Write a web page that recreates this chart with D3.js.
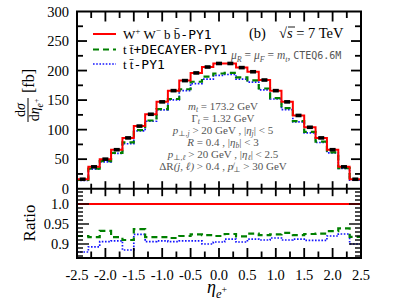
<!DOCTYPE html>
<html>
<head>
<meta charset="utf-8">
<script src="https://cdn.jsdelivr.net/npm/d3@7"></script>
<style>
  body { margin: 0; background: #fff; }
  svg { display: block; }
</style>
</head>
<body>
<div id="main"></div>
<script>
// bin edges in eta_e+ (0.2 wide)
const binEdges = [-2.5, -2.3, -2.1, -1.9, -1.7, -1.5, -1.3, -1.1, -0.9, -0.7, -0.5, -0.3, -0.1,
  0.1, 0.3, 0.5, 0.7, 0.9, 1.1, 1.3, 1.5, 1.7, 1.9, 2.1, 2.3, 2.5];
// dsigma/deta [fb]
const wwbb = [16, 37, 50, 66, 86, 106, 126, 147, 166, 183, 196, 206, 212,
  212, 205, 198, 184, 166, 147, 124, 104, 86, 66, 37, 16];
const ttDecayer = [14.7, 33.9, 46.7, 60.5, 78.3, 99.3, 115.5, 134.8, 151.9, 168.4, 181.1, 189.9, 195,
  196.1, 188.4, 183.3, 169.6, 153.4, 136.4, 114.3, 96.2, 79.6, 61.5, 34.7, 14.7];
const ttPy = [14.1, 33.0, 45.3, 59.9, 76.1, 97.9, 114.2, 133.5, 150.4, 166.2, 178.0, 185.4, 191.9,
  193.3, 185.5, 180.6, 167.4, 151.9, 133.8, 113.1, 94.5, 78.2, 60.7, 34.2, 14.4];
// ratio to W+W-bb
const ratioDecayer = [0.920, 0.917, 0.933, 0.917, 0.910, 0.937, 0.917, 0.917, 0.915, 0.920, 0.924, 0.922, 0.920,
  0.925, 0.919, 0.926, 0.922, 0.924, 0.928, 0.922, 0.925, 0.926, 0.932, 0.939, 0.918];
const ratioPy = [0.880, 0.893, 0.906, 0.908, 0.885, 0.924, 0.906, 0.908, 0.906, 0.908, 0.908, 0.900, 0.905,
  0.912, 0.905, 0.912, 0.910, 0.915, 0.910, 0.912, 0.909, 0.909, 0.920, 0.925, 0.900];

const xTicks = [-2.5, -2.0, -1.5, -1.0, -0.5, 0.0, 0.5, 1.0, 1.5, 2.0, 2.5];
const yTicks = [0, 50, 100, 150, 200, 250, 300];
const rTicks = [0.9, 0.95, 1.0];
const rTickLabels = ["0.9", "0.95", "1.0"];

const W = 407, H = 308;
const L = 77, R = 361, T = 11.5, M = 188.7, B = 258;
const serif = "'Liberation Serif', 'DejaVu Serif', serif";
const mono = "'DejaVu Sans Mono', 'Liberation Mono', monospace";

const svg = d3.select("#main").append("svg").attr("width", W).attr("height", H);

const x = d3.scaleLinear().domain([-2.5, 2.5]).range([L, R]);
const y = d3.scaleLinear().domain([0, 300]).range([M, T]);
const yr = d3.scaleLinear().domain([0.865, 0.865 + (B - M) / 400]).range([B, M]);

const defs = svg.append("defs");
defs.append("clipPath").attr("id", "cu").append("rect")
  .attr("x", L).attr("y", T).attr("width", R - L).attr("height", M - T);
defs.append("clipPath").attr("id", "cl").append("rect")
  .attr("x", L).attr("y", M).attr("width", R - L).attr("height", B - M);

function stepPts(vals) {
  const pts = vals.map((v, i) => [binEdges[i], v]);
  pts.push([binEdges[binEdges.length - 1], vals[vals.length - 1]]);
  return pts;
}
const lineU = d3.line().x(d => x(d[0])).y(d => y(d[1])).curve(d3.curveStepAfter);
const lineL = d3.line().x(d => x(d[0])).y(d => yr(d[1])).curve(d3.curveStepAfter);

const styles = {
  red: { stroke: "#ff0000", w: 2, dash: null },
  green: { stroke: "#008000", w: 2.2, dash: "6,4" },
  blue: { stroke: "#1414ff", w: 1.7, dash: "1.6,1.6" }
};
function draw(g, gen, pts, st) {
  g.append("path").attr("d", gen(pts)).attr("fill", "none")
    .attr("stroke", st.stroke).attr("stroke-width", st.w)
    .attr("stroke-dasharray", st.dash);
}

// upper panel
const gu = svg.append("g").attr("clip-path", "url(#cu)");
draw(gu, lineU, stepPts(ttPy), styles.blue);
draw(gu, lineU, stepPts(ttDecayer), styles.green);
draw(gu, lineU, stepPts(wwbb), styles.red);
gu.selectAll("rect.mk").data(wwbb).join("rect").attr("class", "mk")
  .attr("x", (d, i) => x((binEdges[i] + binEdges[i + 1]) / 2) - 3)
  .attr("y", d => y(d) - 1.8)
  .attr("width", 6).attr("height", 3.6).attr("fill", "#000");

// lower panel
const gl = svg.append("g").attr("clip-path", "url(#cl)");
draw(gl, lineL, stepPts(ratioPy), styles.blue);
draw(gl, lineL, stepPts(ratioDecayer), styles.green);
gl.append("line").attr("x1", L).attr("x2", R).attr("y1", yr(1)).attr("y2", yr(1))
  .attr("stroke", "#ff0000").attr("stroke-width", 2);

// frame and ticks
const ax = svg.append("g").attr("stroke", "#000");
ax.append("rect").attr("x", L).attr("y", T).attr("width", R - L).attr("height", B - T)
  .attr("fill", "none").attr("stroke-width", 2);
ax.append("line").attr("x1", L).attr("x2", R).attr("y1", M).attr("y2", M).attr("stroke-width", 2);

const xMinor = d3.range(-2.25, 2.5, 0.5);
xTicks.concat(xMinor).forEach(v => {
  const major = xTicks.includes(v);
  const len = major ? 10 : 6.5;
  const px = x(v);
  ax.append("line").attr("x1", px).attr("x2", px).attr("y1", T).attr("y2", T + len).attr("stroke-width", 1.8);
  ax.append("line").attr("x1", px).attr("x2", px).attr("y1", B).attr("y2", B - len).attr("stroke-width", 1.8);
  const h = major ? 7.5 : 5;
  ax.append("line").attr("x1", px).attr("x2", px).attr("y1", M - h).attr("y2", M + h).attr("stroke-width", 1.8);
});
d3.range(25, 300, 25).forEach(v => {
  const len = v % 50 === 0 ? 10 : 6;
  ax.append("line").attr("x1", L).attr("x2", L + len).attr("y1", y(v)).attr("y2", y(v)).attr("stroke-width", 1.8);
  ax.append("line").attr("x1", R).attr("x2", R - len).attr("y1", y(v)).attr("y2", y(v)).attr("stroke-width", 1.8);
});
d3.range(87, 104).forEach(k => {
  const v = k / 100;
  const len = k % 5 === 0 ? 12 : 6;
  ax.append("line").attr("x1", L).attr("x2", L + len).attr("y1", yr(v)).attr("y2", yr(v)).attr("stroke-width", 1.4);
  ax.append("line").attr("x1", R).attr("x2", R - len).attr("y1", yr(v)).attr("y2", yr(v)).attr("stroke-width", 1.4);
});

// tick labels
const lab = svg.append("g").attr("font-family", serif).attr("font-size", 14.5).attr("fill", "#000");
yTicks.forEach(v => {
  lab.append("text").attr("x", L - 8).attr("y", y(v) + 5).attr("text-anchor", "end").text(v);
});
rTicks.forEach((v, i) => {
  lab.append("text").attr("x", L - 8).attr("y", yr(v) + 5).attr("text-anchor", "end").text(rTickLabels[i]);
});
xTicks.forEach(v => {
  lab.append("text").attr("x", x(v)).attr("y", 280).attr("text-anchor", "middle")
    .text(d3.format(".1f")(v).replace("−", "-"));
});

// rich text helper: parts are [text, kind]; kinds: it, sub, sup, ssup (raised inside a subscript), tt
function rich(sel, px, py, parts, size, family, subDrop) {
  const t = sel.append("text").attr("x", px).attr("y", py).attr("font-size", size)
    .attr("font-family", family || serif);
  const drop = subDrop || 0.28;
  let shift = 0;
  parts.forEach(([s, k]) => {
    k = k || "";
    let ns = 0, fs = null;
    if (k.includes("ssup")) { ns = 0; fs = size * 0.55; }
    else if (k.includes("sub")) { ns = size * drop; fs = size * 0.7; }
    else if (k.includes("sup")) { ns = -size * 0.38; fs = size * 0.7; }
    const sp = t.append("tspan").text(s).attr("dy", ns - shift);
    shift = ns;
    if (fs) sp.attr("font-size", fs);
    if (k.includes("it")) sp.attr("font-style", "italic");
    if (k.includes("tt")) sp.attr("font-family", mono);
  });
  return t;
}

// axis titles
const yl = svg.append("g").attr("transform", "translate(28,100) rotate(-90)");
rich(yl, -10, -3, [["d"], ["σ", "it"]], 14).attr("text-anchor", "middle");
rich(yl, -10, 11, [["d"], ["η", "it"], ["e", "it sub"], ["+", "ssup"]], 14).attr("text-anchor", "middle");
yl.append("line").attr("x1", -22).attr("x2", 2).attr("y1", 0).attr("y2", 0).attr("stroke", "#000").attr("stroke-width", 1);
yl.append("text").attr("x", 19).attr("y", 5.5).attr("text-anchor", "middle")
  .attr("font-family", serif).attr("font-size", 16).text("[fb]");

svg.append("text").attr("transform", "translate(35,223) rotate(-90)").attr("text-anchor", "middle")
  .attr("font-family", serif).attr("font-size", 17).text("Ratio");

rich(svg, 207, 293, [["η", "it"], ["e", "it sub"], ["+", "ssup"]], 18);

// legend
const leg = [
  { st: styles.red, parts: [["W"], ["+", "sup"], [" W"], ["−", "sup"], [" b b\u0304"], ["-PY1", "tt"]] },
  { st: styles.green, parts: [["t t\u0304"], ["+DECAYER-PY1", "tt"]] },
  { st: styles.blue, parts: [["t t\u0304"], ["-PY1", "tt"]] }
];
const ly = [34, 49.5, 64];
leg.forEach((d, i) => {
  svg.append("line").attr("x1", 93).attr("x2", 116).attr("y1", ly[i]).attr("y2", ly[i])
    .attr("stroke", d.st.stroke).attr("stroke-width", d.st.w).attr("stroke-dasharray", d.st.dash);
  rich(svg, 123, ly[i] + 4.5, d.parts, 13);
});

// header labels
svg.append("text").attr("x", 249).attr("y", 38).attr("font-family", serif).attr("font-size", 14.5).text("(b)");
rich(svg, 279, 38, [["√"], ["s", "it"], [" = 7 TeV"]], 14.5);
svg.append("line").attr("x1", 288).attr("x2", 295).attr("y1", 27).attr("y2", 27).attr("stroke", "#000").attr("stroke-width", 0.9);
rich(svg, 231, 59, [["μ", "it"], ["R", "it sub"], [" = "], ["μ", "it"], ["F", "it sub"], [" = "], ["m", "it"], ["t", "it sub"], [", "]], 11.5)
  .attr("fill", "#555")
  .append("tspan").attr("font-family", mono).attr("font-size", 10).attr("dy", 0).text("CTEQ6.6M");

// cuts
const cuts = [
  [["m", "it"], ["t", "it sub"], [" = 173.2 GeV"]],
  [["Γ"], ["t", "it sub"], [" = 1.32 GeV"]],
  [["p", "it"], ["⊥,", "sub"], ["j", "it sub"], [" > 20 GeV , |"], ["η", "it"], ["j", "it sub"], ["| < 5"]],
  [["R", "it"], [" = 0.4 , |"], ["η", "it"], ["b", "it sub"], ["| < 3"]],
  [["p", "it"], ["⊥,", "sub"], ["ℓ", "it sub"], [" > 20 GeV , |"], ["η", "it"], ["ℓ", "it sub"], ["| < 2.5"]],
  [["ΔR"], ["(j, ℓ)", "it"], [" > 0.4 , "], ["p̸", "it"], ["⊥", "sub"], [" > 30 GeV"]]
];
const cutsY = [110, 122, 133.5, 145.5, 157.5, 169.5];
cuts.forEach((p, i) => {
  rich(svg, 223, cutsY[i], p, 11, null, 0.2).attr("text-anchor", "middle").attr("fill", "#555");
});
</script>
</body>
</html>
